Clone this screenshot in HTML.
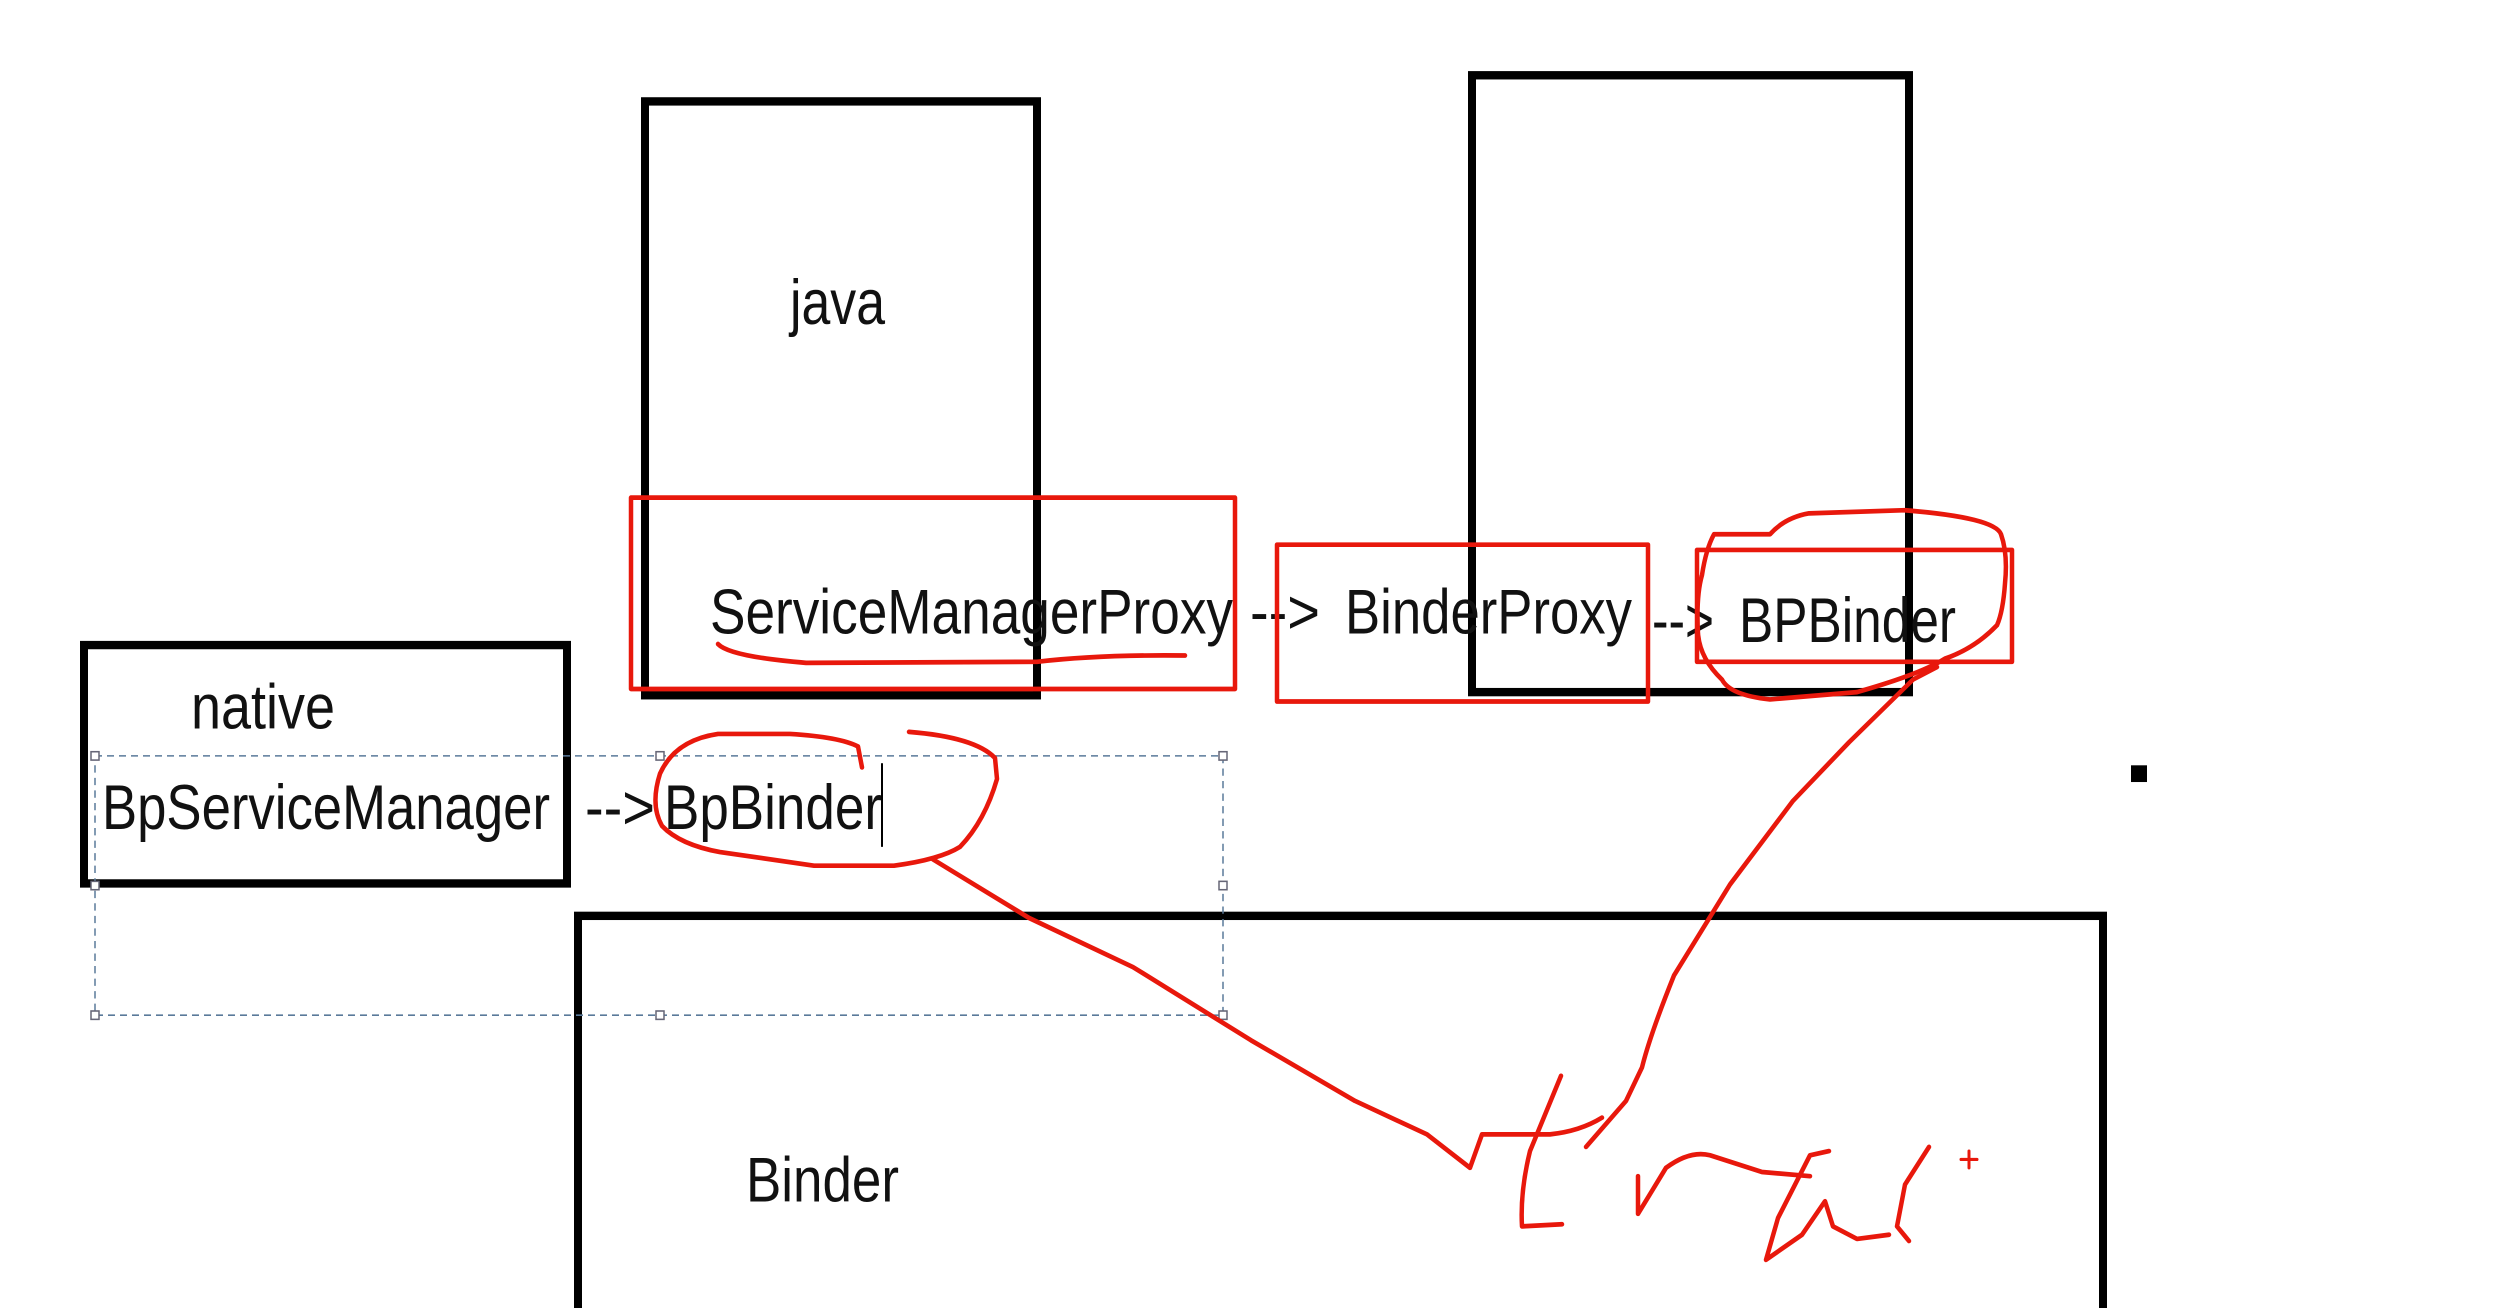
<!DOCTYPE html>
<html><head><meta charset="utf-8"><style>html,body{margin:0;padding:0;background:#fff;overflow:hidden;width:2502px;height:1308px}svg{display:block}</style></head>
<body>
<svg width="2502" height="1308" viewBox="0 0 2502 1308" xmlns="http://www.w3.org/2000/svg">
<g transform="scale(1,1.0455)">
<g fill="none" stroke="#000" stroke-width="8">
<rect x="645" y="97" width="392" height="568"/>
<rect x="1472" y="72" width="437" height="590"/>
<rect x="84" y="617" width="483" height="228"/>
<rect x="578" y="876" width="1525" height="390"/>
</g>
<rect x="2131" y="732" width="16" height="16" fill="#000"/>
<g fill="none" stroke="#5a7a9a" stroke-width="1.5" stroke-dasharray="7,5">
<rect x="95" y="723" width="1128" height="248"/>
</g>
<g fill="#fff" stroke="#667" stroke-width="1.5">
<rect x="91" y="719" width="8" height="8"/><rect x="656" y="719" width="8" height="8"/><rect x="1219" y="719" width="8" height="8"/>
<rect x="91" y="843" width="8" height="8"/><rect x="1219" y="843" width="8" height="8"/>
<rect x="91" y="967" width="8" height="8"/><rect x="656" y="967" width="8" height="8"/><rect x="1219" y="967" width="8" height="8"/>
</g>
<g font-family="Liberation Sans, sans-serif" font-size="60" fill="#111">
<text x="790" y="310" textLength="95" lengthAdjust="spacingAndGlyphs">java</text>
<text x="191" y="697" textLength="144" lengthAdjust="spacingAndGlyphs">native</text>
<text x="710" y="606" textLength="523" lengthAdjust="spacingAndGlyphs">ServiceManagerProxy</text>
<text x="102" y="793" textLength="448" lengthAdjust="spacingAndGlyphs">BpServiceManager</text>
<text x="585" y="793" textLength="70" lengthAdjust="spacingAndGlyphs">--&gt;</text>
<text x="664" y="793" textLength="218" lengthAdjust="spacingAndGlyphs">BpBinder</text>
<text x="1250" y="606" textLength="70" lengthAdjust="spacingAndGlyphs">--&gt;</text>
<text x="1345" y="606" textLength="287" lengthAdjust="spacingAndGlyphs">BinderProxy</text>
<text x="1652" y="614" textLength="62" lengthAdjust="spacingAndGlyphs">--&gt;</text>
<text x="1739" y="614" textLength="217" lengthAdjust="spacingAndGlyphs">BPBinder</text>
<text x="746" y="1149" textLength="153" lengthAdjust="spacingAndGlyphs">Binder</text>
</g>
<line x1="882" y1="730" x2="882" y2="810" stroke="#000" stroke-width="2"/>
<g fill="none" stroke="#e8180c" stroke-width="4.5" stroke-linecap="round" stroke-linejoin="round">
<rect x="631" y="476" width="604" height="183"/>
<rect x="1277" y="521" width="371" height="150"/>
<rect x="1697" y="526" width="315" height="107"/>
<path d="M718,616 Q730,628 806,634 L1037,633 Q1100,626 1185,627"/>
<path d="M862,734 L858,714 Q840,705 790,702 L718,702 Q675,708 660,740 Q650,770 662,790 Q680,808 720,815 L814,828 L894,828 Q940,822 960,810 Q985,785 997,745 L995,725 Q975,705 909,700"/>
<path d="M933,822 L1029,878 L1133,925 L1251,995 L1355,1053 L1427,1085 L1470,1117 L1482,1085 L1550,1085 Q1580,1082 1602,1069"/>
<path d="M1714,511 L1770,511 Q1785,495 1809,491 L1905,488 Q1995,495 2001,511 Q2008,530 2005,558 Q2003,585 1997,598 Q1975,620 1945,630 Q1920,645 1857,662 L1770,669 Q1730,665 1722,650 Q1700,630 1698,606 Q1696,570 1702,550 Q1706,525 1714,511"/>
<path d="M1937,638 L1913,650 L1849,710 L1793,766 L1730,846 L1674,933 Q1650,990 1642,1021 L1626,1053 L1586,1097"/>
<path d="M1561,1029 L1530,1101 Q1520,1140 1522,1173 L1562,1171"/>
<path d="M1638,1125 L1638,1161 L1666,1117 Q1690,1100 1710,1105 L1762,1121 L1810,1125"/>
<path d="M1829,1101 L1810,1105 L1778,1165 L1766,1205 L1802,1181 L1825,1149 L1833,1173 L1857,1185 L1889,1181"/>
<path d="M1929,1097 L1905,1133 L1897,1173 L1909,1187"/>
<path d="M1961,1109 L1977,1109 M1969,1101 L1969,1117" stroke-width="3"/>
</g>
</g>
</svg>
</body></html>
